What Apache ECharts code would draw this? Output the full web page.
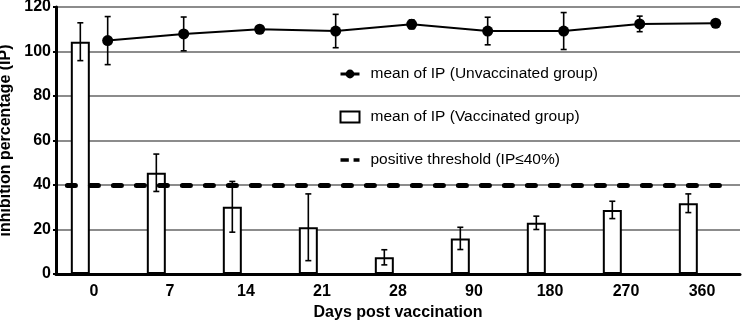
<!DOCTYPE html>
<html>
<head>
<meta charset="utf-8">
<script src="https://cdn.jsdelivr.net/npm/echarts@6/dist/echarts.min.js"></script>
<style>
  html, body { margin: 0; padding: 0; background: #fff; }
  #chart { width: 742px; height: 320px; }
</style>
</head>
<body>
<div id="chart"></div>
<script>
  // days post vaccination (categories)
  const days = ['0', '7', '14', '21', '28', '90', '180', '270', '360']
  // vaccinated group, mean IP and error
  const vacMean = [104.4, 45.5, 30.2, 21, 7.5, 16, 23, 28.8, 31.8]
  const vacErr = [8.5, 8.4, 11.4, 15, 3.4, 5, 3, 3.9, 4.2]
  // unvaccinated group, mean IP and error
  const unvacMean = [104.9, 107.9, 110, 109.2, 112.2, 109.2, 109.2, 112.4, 112.7]
  const unvacErr = [10.8, 7.6, 1, 7.5, 2, 6.2, 8.3, 3.5, 1]
  const threshold = 40
  const yTicks = [0, 20, 40, 60, 80, 100, 120]

  const FONT = 'Liberation Sans, Arial, sans-serif'
  const SHIFT = 0.18 // bars sit left of the category centre, dots right

  const chart = echarts.init(document.getElementById('chart'))

  const barData = vacMean.map((v, i) => [i - SHIFT, v])
  const lineData = unvacMean.map((v, i) => [i + SHIFT, v])
  const vacErrData = vacMean.map((v, i) => [i - SHIFT, v - vacErr[i], v + vacErr[i]])
  const unvacErrData = unvacMean.map((v, i) => [i + SHIFT, v - unvacErr[i], v + unvacErr[i]])

  function renderErr (params, api) {
    const x = api.value(0)
    const top = api.coord([x, api.value(2)])
    const bot = api.coord([x, api.value(1)])
    const cap = 3
    const style = { stroke: '#000', lineWidth: 1.6 }
    return {
      type: 'group',
      children: [
        { type: 'line', shape: { x1: top[0], y1: top[1], x2: bot[0], y2: bot[1] }, style: style },
        { type: 'line', shape: { x1: top[0] - cap, y1: top[1], x2: top[0] + cap, y2: top[1] }, style: style },
        { type: 'line', shape: { x1: bot[0] - cap, y1: bot[1], x2: bot[0] + cap, y2: bot[1] }, style: style }
      ]
    }
  }

  const option = {
    animation: false,
    backgroundColor: '#fff',
    grid: { left: 56, right: 2, top: 7, bottom: 46, containLabel: false, outerBoundsMode: 'none' },
    legend: {
      orient: 'vertical',
      left: 334,
      top: 61,
      itemGap: 27,
      itemWidth: 19,
      itemHeight: 11,
      selectedMode: false,
      textStyle: { fontFamily: FONT, fontSize: 15.5, color: '#000', padding: [0, 0, 0, 6] },
      data: [
        { name: 'mean of IP (Unvaccinated group)', lineStyle: { width: 3 } },
        { name: 'mean of IP (Vaccinated group)', icon: 'rect' },
        { name: 'positive threshold (IP≤40%)', icon: 'path://M0,0H7V3H0Z M11,0H16V3H11Z', itemStyle: { color: '#000' } }
      ]
    },
    xAxis: [
      {
        type: 'category',
        data: days,
        boundaryGap: true,
        name: 'Days post vaccination',
        nameLocation: 'middle',
        nameGap: 29,
        nameTextStyle: { fontFamily: FONT, fontSize: 16, fontWeight: 'bold', color: '#000' },
        axisLine: { lineStyle: { color: '#000', width: 3 } },
        axisTick: { inside: true, length: 5, alignWithLabel: true, lineStyle: { color: '#000', width: 3 } },
        axisLabel: { fontFamily: FONT, fontSize: 16, fontWeight: 'bold', color: '#000', margin: 10 },
        splitLine: { show: false }
      },
      {
        type: 'value',
        min: -0.5,
        max: days.length - 0.5,
        show: false
      }
    ],
    yAxis: {
      type: 'value',
      min: yTicks[0],
      max: yTicks[yTicks.length - 1],
      interval: 20,
      name: 'inhibition percentage (IP)',
      nameLocation: 'middle',
      nameGap: 38,
      nameTextStyle: { fontFamily: FONT, fontSize: 16, fontWeight: 'bold', color: '#000' },
      axisLine: { show: true, onZero: false, lineStyle: { color: '#000', width: 3 } },
      axisTick: { show: true, length: 3, lineStyle: { color: '#000', width: 2 } },
      axisLabel: { fontFamily: FONT, fontSize: 16, fontWeight: 'bold', color: '#000', margin: 5 },
      splitLine: { lineStyle: { color: '#666', width: 1.5 } }
    },
    series: [
      {
        name: 'positive threshold (IP≤40%)',
        type: 'line',
        xAxisIndex: 1,
        data: [],
        symbol: 'none',
        lineStyle: { color: '#000', width: 5, type: [8, 15], cap: 'round' },
        itemStyle: { color: '#000' },
        markLine: {
          silent: true,
          symbol: 'none',
          label: { show: false },
          lineStyle: { color: '#000', width: 5, type: [8, 15], cap: 'round' },
          data: [[{ coord: [-0.35, threshold] }, { coord: [days.length - 0.7, threshold] }]]
        }
      },
      {
        name: 'mean of IP (Vaccinated group)',
        type: 'bar',
        xAxisIndex: 1,
        barWidth: 19,
        data: barData,
        itemStyle: { color: '#fff', borderColor: '#000', borderWidth: 2 }
      },
      {
        type: 'custom',
        xAxisIndex: 1,
        renderItem: renderErr,
        data: vacErrData,
        z: 5
      },
      {
        type: 'custom',
        xAxisIndex: 1,
        renderItem: renderErr,
        data: unvacErrData,
        z: 5
      },
      {
        name: 'mean of IP (Unvaccinated group)',
        type: 'line',
        xAxisIndex: 1,
        data: lineData,
        symbol: 'circle',
        symbolSize: 11,
        lineStyle: { color: '#000', width: 2 },
        itemStyle: { color: '#000' },
        z: 6
      }
    ]
  }

  chart.setOption(option)
</script>
</body>
</html>
